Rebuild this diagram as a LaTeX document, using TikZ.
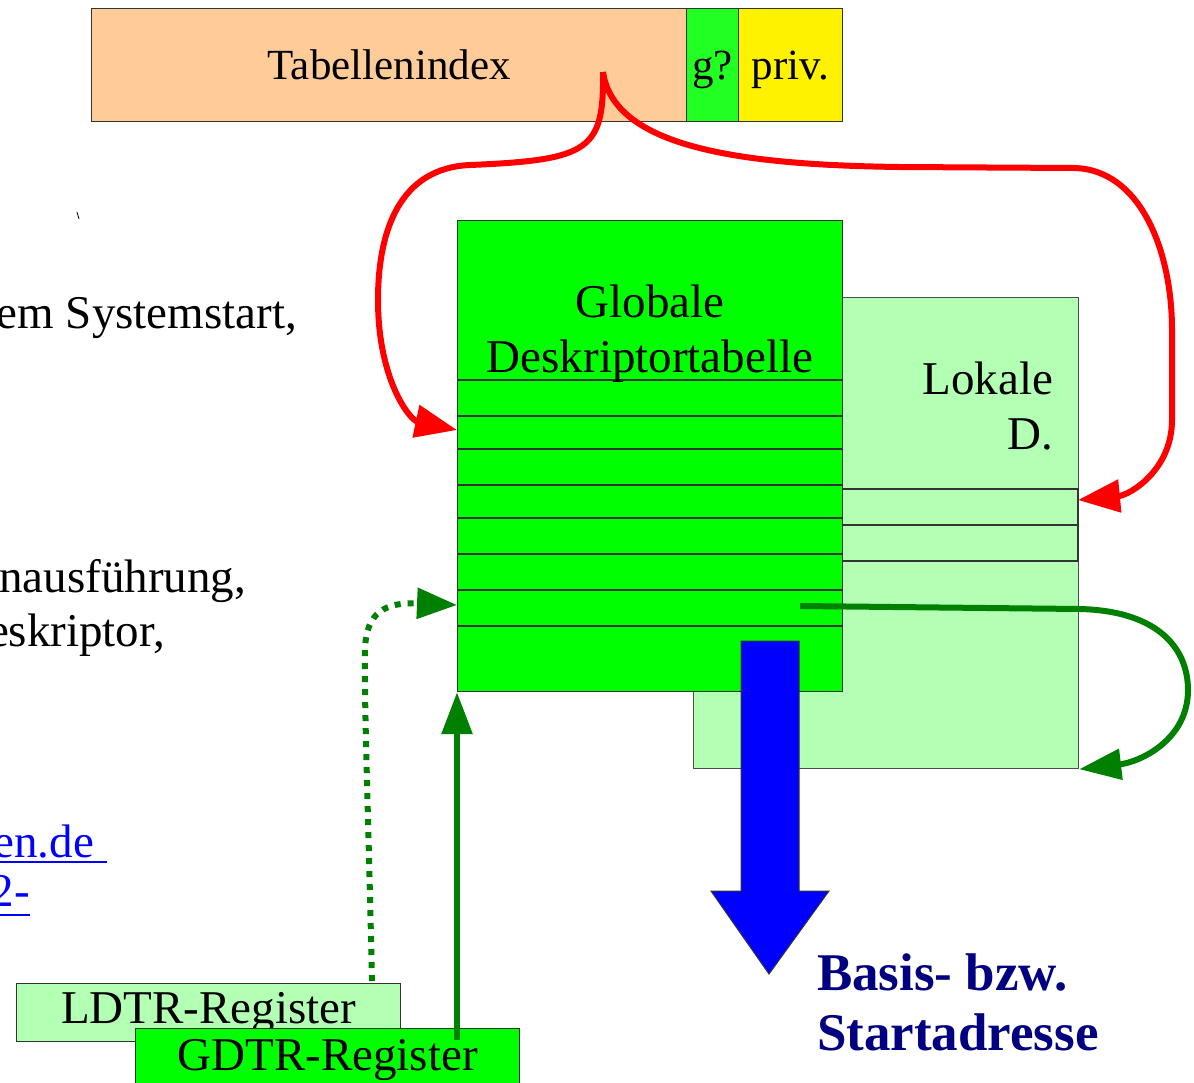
\documentclass[tikz,border=0pt]{standalone}
\usepackage{fontspec}
\setmainfont{Liberation Serif}
\usetikzlibrary{arrows.meta}
\definecolor{peach}{HTML}{FFCC99}
\definecolor{flaggreen}{HTML}{22FF22}
\definecolor{gdtgreen}{HTML}{00FF00}
\definecolor{ldtgreen}{HTML}{B3FFB3}
\definecolor{arrowgreen}{HTML}{008000}
\definecolor{navytext}{HTML}{000080}
\definecolor{linkblue}{HTML}{0000FF}
\begin{document}
\begin{tikzpicture}[x=1pt,y=-1pt,
  box/.style={draw=black!80, line width=1.2pt, inner sep=0pt, anchor=north west},
  rowline/.style={draw=black!80, line width=1.2pt},
  topfont/.style={font=\fontsize{43}{50}\selectfont},
  bigfont/.style={font=\fontsize{47}{55}\selectfont},
  plain/.style={inner sep=0pt, outer sep=0pt},
  redarrow/.style={draw=red, line width=6pt, -{Triangle[length=42pt,width=32pt]}},
  greenarrow/.style={draw=arrowgreen, line width=6pt, -{Triangle[length=42pt,width=30pt]}},
  dottedarrow/.style={draw=arrowgreen, line width=6pt, dash pattern=on 6pt off 7pt, -{Triangle[length=40pt,width=30pt]}},
  linktext/.style={plain, bigfont, text=linkblue, anchor=base east},
  bodytext/.style={plain, bigfont, anchor=base east}]

\clip (0,0) rectangle (1194,1082);
\fill[white] (0,0) rectangle (1194,1082);

% selector fields
\node[box, fill=peach, minimum width=595pt, minimum height=113pt,
      text height=31pt, text depth=2pt, topfont] (tidx) at (91,8) {Tabellenindex};
\node[box, fill=flaggreen, minimum width=52pt, minimum height=113pt,
      text height=31pt, text depth=2pt, topfont] (gflag) at (686,8) {g?};
\node[box, fill=yellow, minimum width=104pt, minimum height=113pt,
      text height=31pt, text depth=2pt, topfont] (priv) at (738,8) {priv.};

% left-hand body text, cut at the page edge
\node[bodytext] (t1) at (297,328) {em Systemstart,};
\node[bodytext] (t2) at (246,592) {nausführung,};
\node[bodytext] (t3) at (165,646) {eskriptor,};
\node[linktext] (l1) at (94,857) {en.de};
\node[linktext] (l2) at (30,906) {2-};
\draw[linkblue, line width=2pt] (0,862) -- (107,862);
\draw[linkblue, line width=2pt] (0,915) -- (30,915);
\draw[black, line width=0.8pt] (77,212) -- (79,219);

% local descriptor table
\node[box, draw=black!70, fill=ldtgreen, minimum width=385pt, minimum height=471pt] (lok) at (693,297) {};
\draw[rowline, fill=ldtgreen] (693,489) rectangle (1078,525);
\draw[rowline, fill=ldtgreen] (693,525) rectangle (1078,561);
\node[plain, bigfont, anchor=base east] (lokA) at (1053,394) {Lokale};
\node[plain, bigfont, anchor=base east] (lokB) at (1053,449) {D.};

% global descriptor table
\node[box, fill=gdtgreen, minimum width=385pt, minimum height=471pt] (gdt) at (457,220) {};
\foreach \yy in {380,416,449,485,518,554,590,626}
  \draw[rowline] (457,\yy) -- (842,\yy);
\node[plain, bigfont, anchor=base] (gdtA) at (650,317) {Globale};
\node[plain, bigfont, anchor=base] (gdtB) at (650,372) {Deskriptortabelle};

% base address arrow
\draw[fill=blue, draw=black!80, line width=1pt]
  (741,641) -- (799,641) -- (799,891) -- (829,891) -- (769,974) -- (711,891) -- (741,891) -- cycle;
\node[plain, font=\fontsize{53}{60}\selectfont\bfseries, text=navytext, anchor=base west] (baseA) at (817,990) {Basis- bzw.};
\node[plain, font=\fontsize{53}{60}\selectfont\bfseries, text=navytext, anchor=base west] (baseB) at (817,1050) {Startadresse};

% registers
\node[box, fill=ldtgreen, minimum width=384pt, minimum height=58pt, bigfont] (ldtr) at (16,983) {LDTR-Register};
\node[box, fill=gdtgreen, minimum width=384pt, minimum height=62pt, bigfont] (gdtr) at (135,1028) {GDTR-Register};

% register pointers
\coordinate (ldtrout) at (372,981);
\coordinate (gdtrow) at (457,605);
\draw[dottedarrow] (ldtrout) .. controls (368,800) and (364,700) .. (365,650)
  .. controls (366,612) and (385,602) .. (gdtrow);
\coordinate (gdtrout) at (457,1040);
\draw[greenarrow] (gdtrout) -- (gdt.south west);

% descriptor pointing into the local table
\coordinate (gdtentry) at (800,606);
\draw[greenarrow] (gdtentry) -- (1080,609)
  .. controls (1160,611) and (1188,650) .. (1188,690)
  .. controls (1188,740) and (1140,762) .. (lok.south east);

% table index selects GDT or LDT
\coordinate (tsrc) at (603,72);
\coordinate (gdtin) at (457,430);
\coordinate (lokin) at (1078,500);
\draw[redarrow] (tsrc) .. controls (604,150) and (590,160) .. (470,165)
  .. controls (400,168) and (378,230) .. (378,300)
  .. controls (378,380) and (410,420) .. (gdtin);
\draw[redarrow] (tsrc) .. controls (614,150) and (750,165) .. (900,167)
  -- (1075,168) .. controls (1140,170) and (1172,250) .. (1172,330)
  -- (1172,420) .. controls (1172,470) and (1130,495) .. (lokin);
\end{tikzpicture}
\end{document}
